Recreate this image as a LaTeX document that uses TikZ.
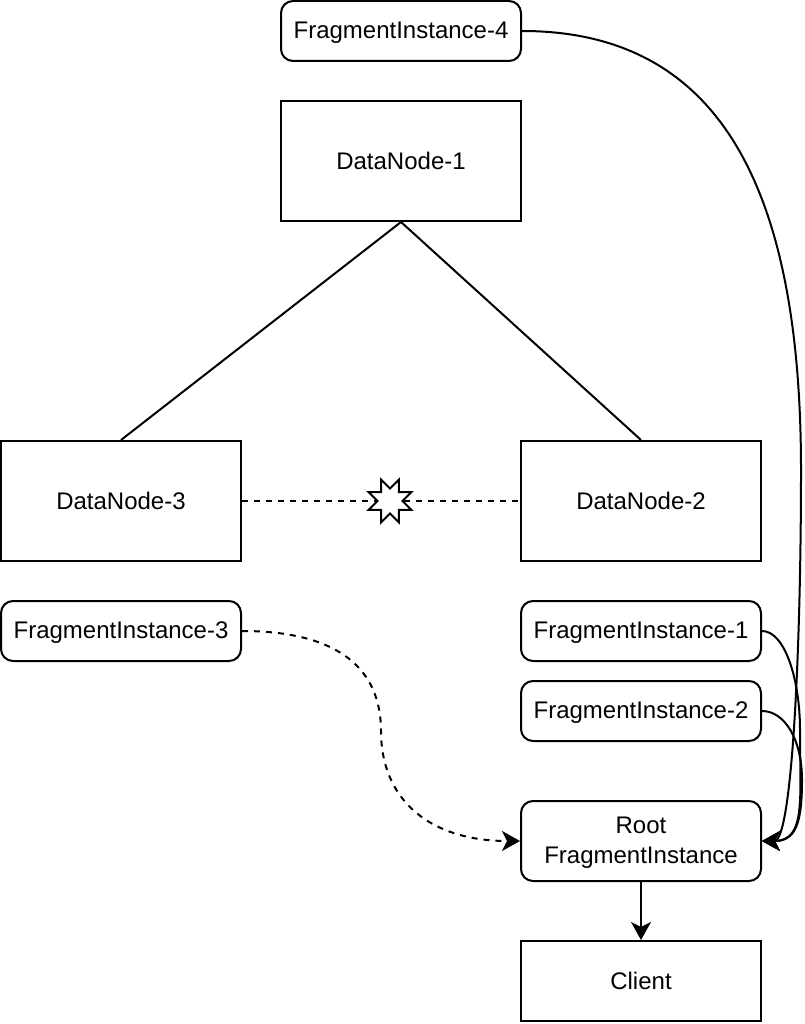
\documentclass[tikz,border=0pt]{standalone}
\usepackage{fontspec}
\setmainfont{Liberation Sans}
\usetikzlibrary{arrows.meta,shapes.geometric}

\tikzset{
  plainbox/.style = {draw, line width=2pt, minimum width=240pt, minimum height=120pt, inner sep=0pt, align=center, font=\fontsize{24}{30}\selectfont},
  fragbox/.style = {plainbox, rounded corners=12pt, minimum height=60pt, text depth=1pt},
  link/.style = {line width=2pt},
  arrowlink/.style = {link, -{Stealth[length=18pt,width=20pt,inset=5pt]}},
  dashlink/.style = {dash pattern=on 6pt off 6pt},
}

\begin{document}
\begin{tikzpicture}[x=1pt,y=-1pt]

\useasboundingbox (0,0) rectangle (804,1024);

% Data nodes
\node[plainbox] (dn1) at (401,161) {DataNode-1};
\node[plainbox] (dn3) at (121,501) {DataNode-3};
\node[plainbox] (dn2) at (641,501) {DataNode-2};
\node[plainbox, minimum height=80pt] (client) at (641,981) {Client};

% Fragment instances
\node[fragbox] (fi4) at (401,31) {FragmentInstance-4};
\node[fragbox] (fi3) at (121,631) {FragmentInstance-3};
\node[fragbox] (fi1) at (641,631) {FragmentInstance-1};
\node[fragbox] (fi2) at (641,711) {FragmentInstance-2};
\node[fragbox, minimum height=80pt] (root) at (641,841) {Root\\FragmentInstance};

% Broken link
\node[star, star points=8, star point ratio=1.85, shape border rotate=22.5, draw, line width=2pt, fill=white, minimum size=46pt, inner sep=0pt] (burst) at (390,501) {};
\draw[link, dashlink] (dn3.east) -- (burst.west);
\draw[link, dashlink] (burst.east) -- (dn2.west);

% Links between data nodes
\draw[link] (dn1.south) -- (dn3.north);
\draw[link] (dn1.south) -- (dn2.north);

% Results to the root
\draw[arrowlink, dashlink] (fi3.east) .. controls (340,631) and (381,670) .. (381,731) .. controls (381,800) and (430,841) .. (root.west);
\draw[arrowlink] (fi4.east) .. controls (715,31) and (801,180) .. (801,470) .. controls (801,650) and (792,841) .. (root.east);
\draw[arrowlink] (fi1.east) .. controls (785,631) and (800,680) .. (800,730) .. controls (800,800) and (806,841) .. (root.east);
\draw[arrowlink] (fi2.east) .. controls (785,711) and (802,740) .. (802,780) .. controls (802,825) and (795,841) .. (root.east);
\draw[arrowlink] (root.south) -- (client.north);

\end{tikzpicture}
\end{document}
